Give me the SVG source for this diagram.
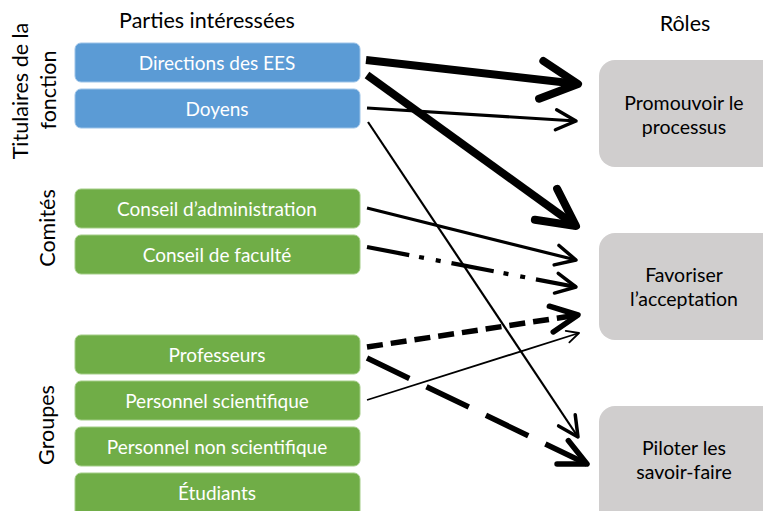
<svg xmlns="http://www.w3.org/2000/svg" width="763" height="511" viewBox="0 0 763 511">
  <style>
    .lbl { font-family: Lato, "Liberation Sans", sans-serif; fill: #000; }
    .head { font-size: 21.5px; }
    .side { font-size: 21.5px; }
    .box text { font-family: Lato, "Liberation Sans", sans-serif; font-size: 19px; fill: #fff; text-anchor: middle; }
    .role text { font-family: Lato, "Liberation Sans", sans-serif; font-size: 19.5px; fill: #000; text-anchor: middle; }
    .blue rect { fill: #5b9bd5; stroke: #9cc3e8; stroke-width: 1; }
    .green rect { fill: #70ad47; stroke: #a3cd87; stroke-width: 1; }
    .role rect { fill: #d0cece; }
    .conn line { stroke: #000; fill: none; stroke-linecap: butt; }
    .arm { fill: none; stroke: #000; stroke-linecap: round; stroke-linejoin: round; }
  </style>
  <defs>
    <marker id="head-lg" markerUnits="userSpaceOnUse" markerWidth="80" markerHeight="80" refX="0" refY="0" orient="auto" overflow="visible">
      <path class="arm" d="M-37,-19 L0,0 L-37,19" stroke-width="8"/>
    </marker>
    <marker id="head-dash" markerUnits="userSpaceOnUse" markerWidth="60" markerHeight="60" refX="0" refY="0" orient="auto" overflow="visible">
      <path class="arm" d="M-27,-13 L0,0 L-27,13" stroke-width="5.5"/>
    </marker>
    <marker id="head-md" markerUnits="userSpaceOnUse" markerWidth="50" markerHeight="50" refX="0" refY="0" orient="auto" overflow="visible">
      <path class="arm" d="M-20,-10 L0,0 L-20,10" stroke-width="3.5"/>
    </marker>
    <marker id="head-sm" markerUnits="userSpaceOnUse" markerWidth="30" markerHeight="30" refX="0" refY="0" orient="auto" overflow="visible">
      <path class="arm" d="M-12,-6 L0,0 L-12,6" stroke-width="1.8"/>
    </marker>
  </defs>

  <!-- column headings -->
  <text class="lbl head" x="207" y="28" text-anchor="middle">Parties intéressées</text>
  <text class="lbl head" x="685" y="31" text-anchor="middle">Rôles</text>

  <!-- group captions, rotated -->
  <text class="lbl side" transform="translate(28,91) rotate(-90)" text-anchor="middle">Titulaires de la</text>
  <text class="lbl side" transform="translate(56,90) rotate(-90)" text-anchor="middle">fonction</text>
  <text class="lbl side" transform="translate(55,228) rotate(-90)" text-anchor="middle">Comités</text>
  <text class="lbl side" transform="translate(54,425) rotate(-90)" text-anchor="middle">Groupes</text>

  <!-- stakeholders -->
  <g id="directions" class="box blue">
    <rect x="75" y="43" width="285" height="39" rx="6"/>
    <text x="217" y="69.5">Directions des EES</text>
  </g>
  <g id="doyens" class="box blue">
    <rect x="75" y="89" width="285" height="39" rx="6"/>
    <text x="217" y="115.5">Doyens</text>
  </g>
  <g id="conseil-admin" class="box green">
    <rect x="75" y="189" width="285" height="39" rx="6"/>
    <text x="217" y="215.5">Conseil d’administration</text>
  </g>
  <g id="conseil-faculte" class="box green">
    <rect x="75" y="235" width="285" height="39" rx="6"/>
    <text x="217" y="261.5">Conseil de faculté</text>
  </g>
  <g id="professeurs" class="box green">
    <rect x="75" y="335" width="285" height="39" rx="6"/>
    <text x="217" y="361.5">Professeurs</text>
  </g>
  <g id="personnel-sci" class="box green">
    <rect x="75" y="381" width="285" height="39" rx="6"/>
    <text x="217" y="407.5">Personnel scientifique</text>
  </g>
  <g id="personnel-non-sci" class="box green">
    <rect x="75" y="427" width="285" height="39" rx="6"/>
    <text x="217" y="453.5">Personnel non scientifique</text>
  </g>
  <g id="etudiants" class="box green">
    <rect x="75" y="473" width="285" height="44" rx="6"/>
    <text x="217" y="499.5">Étudiants</text>
  </g>

  <!-- roles -->
  <g id="promouvoir" class="role">
    <rect x="599" y="60" width="180" height="107" rx="16"/>
    <text x="684" y="110">Promouvoir le</text>
    <text x="684" y="134">processus</text>
  </g>
  <g id="favoriser" class="role">
    <rect x="599" y="233" width="180" height="107" rx="16"/>
    <text x="684" y="282">Favoriser</text>
    <text x="684" y="306">l’acceptation</text>
  </g>
  <g id="piloter" class="role">
    <rect x="599" y="406" width="180" height="120" rx="16"/>
    <text x="684" y="455">Piloter les</text>
    <text x="684" y="479">savoir-faire</text>
  </g>

  <!-- connectors -->
  <g id="connectors" class="conn">
    <line x1="366" y1="60" x2="578" y2="84" stroke-width="8" marker-end="url(#head-lg)"/>
    <line x1="367" y1="75" x2="576" y2="226" stroke-width="8" marker-end="url(#head-lg)"/>
    <line x1="367" y1="108" x2="576" y2="121" stroke-width="3.2" marker-end="url(#head-md)"/>
    <line x1="368" y1="122" x2="578" y2="437" stroke-width="2.2" marker-end="url(#head-md)"/>
    <line x1="367" y1="208" x2="576" y2="260" stroke-width="3.2" marker-end="url(#head-md)"/>
    <line x1="367" y1="247" x2="576" y2="287" stroke-width="4.2" stroke-dasharray="43 10 5 12 5 11" marker-end="url(#head-md)"/>
    <line x1="367" y1="347" x2="578" y2="315" stroke-width="5.5" stroke-dasharray="16 8" marker-end="url(#head-dash)"/>
    <line x1="367" y1="358" x2="587" y2="464" stroke-width="5.5" stroke-dasharray="47 19" marker-end="url(#head-dash)"/>
    <line x1="367" y1="400" x2="579" y2="333" stroke-width="1.8" marker-end="url(#head-sm)"/>
  </g>
</svg>
